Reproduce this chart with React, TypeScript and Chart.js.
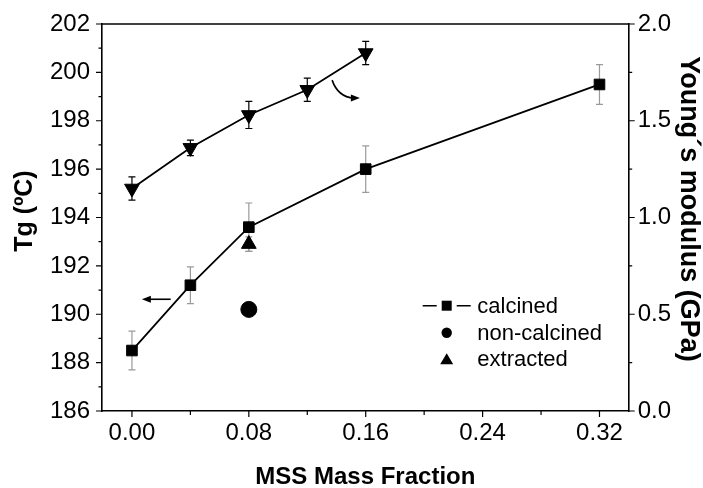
import React, { useEffect, useRef } from "react";
import { Chart, registerables } from "chart.js";

Chart.register(...registerables);

// ---- data ----
const xCalcined = [0, 0.04, 0.08, 0.16, 0.32];
const tgCalcined = [188.5, 191.2, 193.6, 196.0, 199.5];
const tgCalcinedErr = [0.8, 0.76, 1.0, 0.96, 0.82];

const xModulus = [0, 0.04, 0.08, 0.12, 0.16];
const modulusGPa = [1.15, 1.36, 1.53, 1.66, 1.85];
const modulusErr = [0.06, 0.04, 0.07, 0.06, 0.06];

const xNonCalcined = [0.08];
const tgNonCalcined = [190.2];

const xExtracted = [0.08];
const tgExtracted = [192.9];
const tgExtractedErr = [0.3];

const xTickValues = [0, 0.04, 0.08, 0.12, 0.16, 0.2, 0.24, 0.28, 0.32];
const legendLabels = ["calcined", "non-calcined", "extracted"];

const xTitle = "MSS Mass Fraction";
const yTitle = "Tg (ºC)";
const y2Title = "Young´s modulus (GPa)";

// arrow annotations in data units
const leftArrow = { x1: 0.0265, x2: 0.0068, y: 190.62 };
const curvedArrow = { x0: 0.137, y0: 199.68, cx: 0.141, cy: 198.98, x1: 0.156, y1: 198.94 };

const FONT = '"Liberation Sans", Arial, Helvetica, sans-serif';

function arrowHead(ctx: CanvasRenderingContext2D, x: number, y: number, ang: number, len = 9, half = 3.5) {
  ctx.save();
  ctx.translate(x, y);
  ctx.rotate(ang);
  ctx.beginPath();
  ctx.moveTo(0, 0);
  ctx.lineTo(-len, -half);
  ctx.lineTo(-len, half);
  ctx.closePath();
  ctx.fill();
  ctx.restore();
}

const customPlugin = {
  id: "customDecor",
  beforeDatasetsDraw(chart: any) {
    const { ctx, scales } = chart;
    const xs = scales.x;
    const drawErr = (xsArr: number[], vals: number[], errs: number[], ys: any, color: string) => {
      ctx.save();
      ctx.strokeStyle = color;
      ctx.lineWidth = 1.2;
      xsArr.forEach((xv, i) => {
        const px = xs.getPixelForValue(xv);
        const top = ys.getPixelForValue(vals[i] + errs[i]);
        const bot = ys.getPixelForValue(vals[i] - errs[i]);
        ctx.beginPath();
        ctx.moveTo(px, top);
        ctx.lineTo(px, bot);
        ctx.moveTo(px - 3.5, top);
        ctx.lineTo(px + 3.5, top);
        ctx.moveTo(px - 3.5, bot);
        ctx.lineTo(px + 3.5, bot);
        ctx.stroke();
      });
      ctx.restore();
    };
    drawErr(xCalcined, tgCalcined, tgCalcinedErr, scales.y, "#9a9a9a");
    drawErr(xModulus, modulusGPa, modulusErr, scales.y2, "#000");
    drawErr(xExtracted, tgExtracted, tgExtractedErr, scales.y, "#9a9a9a");
  },
  afterDraw(chart: any) {
    const { ctx, scales, chartArea: ca } = chart;
    const xs = scales.x, ys = scales.y, y2 = scales.y2;
    ctx.save();
    ctx.strokeStyle = "#000";
    ctx.fillStyle = "#000";
    ctx.lineWidth = 1.5;
    // top frame line
    ctx.beginPath();
    ctx.moveTo(ca.left, ca.top);
    ctx.lineTo(ca.right, ca.top);
    ctx.stroke();
    // tick marks
    ctx.lineWidth = 1.2;
    ctx.beginPath();
    xTickValues.forEach((v, i) => {
      const px = xs.getPixelForValue(v);
      const len = i % 2 === 0 ? 6 : 4;
      ctx.moveTo(px, ca.bottom);
      ctx.lineTo(px, ca.bottom + len);
    });
    ys.ticks.forEach((t: any) => {
      const py = ys.getPixelForValue(t.value);
      const len = Math.round(t.value) % 2 === 0 ? 6 : 3.5;
      ctx.moveTo(ca.left, py);
      ctx.lineTo(ca.left - len, py);
    });
    y2.ticks.forEach((t: any) => {
      const py = y2.getPixelForValue(t.value);
      const major = Math.abs(t.value * 2 - Math.round(t.value * 2)) < 1e-6;
      const len = major ? 6 : 3.5;
      ctx.moveTo(ca.right, py);
      ctx.lineTo(ca.right + len, py);
    });
    ctx.stroke();

    // arrows
    ctx.lineWidth = 1.6;
    const ax1 = xs.getPixelForValue(leftArrow.x1);
    const ax2 = xs.getPixelForValue(leftArrow.x2);
    const ay = ys.getPixelForValue(leftArrow.y);
    ctx.beginPath();
    ctx.moveTo(ax1, ay);
    ctx.lineTo(ax2 + 6, ay);
    ctx.stroke();
    arrowHead(ctx, ax2, ay, Math.PI);

    const c0x = xs.getPixelForValue(curvedArrow.x0), c0y = ys.getPixelForValue(curvedArrow.y0);
    const ccx = xs.getPixelForValue(curvedArrow.cx), ccy = ys.getPixelForValue(curvedArrow.cy);
    const c1x = xs.getPixelForValue(curvedArrow.x1), c1y = ys.getPixelForValue(curvedArrow.y1);
    ctx.beginPath();
    ctx.moveTo(c0x, c0y);
    ctx.quadraticCurveTo(ccx, ccy, c1x - 6, c1y);
    ctx.stroke();
    arrowHead(ctx, c1x, c1y, 0);

    // legend
    const lx = ca.left + 344.7; // symbol center
    const rows = [ca.top + 281.7, ca.top + 308.7, ca.top + 335.3];
    ctx.font = `22px ${FONT}`;
    ctx.textBaseline = "middle";
    ctx.textAlign = "left";
    ctx.lineWidth = 1.6;
    ctx.beginPath();
    ctx.moveTo(lx - 24, rows[0]);
    ctx.lineTo(lx - 10, rows[0]);
    ctx.moveTo(lx + 10, rows[0]);
    ctx.lineTo(lx + 24, rows[0]);
    ctx.stroke();
    ctx.fillRect(lx - 5, rows[0] - 5, 10, 10);
    ctx.beginPath();
    ctx.arc(lx, rows[1], 5.2, 0, Math.PI * 2);
    ctx.fill();
    ctx.beginPath();
    ctx.moveTo(lx, rows[2] - 6);
    ctx.lineTo(lx + 6.5, rows[2] + 5);
    ctx.lineTo(lx - 6.5, rows[2] + 5);
    ctx.closePath();
    ctx.fill();
    legendLabels.forEach((l, i) => ctx.fillText(l, lx + 30.6, rows[i] + 1));

    // axis titles
    ctx.textBaseline = "alphabetic";
    ctx.textAlign = "center";
    ctx.font = `bold 24px ${FONT}`;
    ctx.fillText(xTitle, (ca.left + ca.right) / 2, 483.5);
    ctx.font = `bold 25px ${FONT}`;
    ctx.save();
    ctx.translate(31.7, 211);
    ctx.rotate(-Math.PI / 2);
    ctx.fillText(yTitle, 0, 0);
    ctx.restore();
    ctx.font = `bold 27px ${FONT}`;
    ctx.save();
    ctx.translate(681, 209);
    ctx.rotate(Math.PI / 2);
    ctx.fillText(y2Title, 0, 0);
    ctx.restore();
    ctx.restore();
  },
};

export default function App() {
  const ref = useRef<HTMLCanvasElement | null>(null);
  useEffect(() => {
    if (!ref.current) return;
    const tickFont = { family: FONT, size: 24 };
    const chart = new Chart(ref.current, {
      type: "scatter",
      data: {
        datasets: [
          {
            label: legendLabels[0],
            data: xCalcined.map((x, i) => ({ x, y: tgCalcined[i] })),
            showLine: true,
            borderColor: "#000",
            backgroundColor: "#000",
            borderWidth: 1.8,
            pointStyle: "rect",
            pointRadius: 7.5,
            pointBorderWidth: 1,
            yAxisID: "y",
          },
          {
            label: "modulus",
            data: xModulus.map((x, i) => ({ x, y: modulusGPa[i] })),
            showLine: true,
            borderColor: "#000",
            backgroundColor: "#000",
            borderWidth: 1.8,
            pointStyle: "triangle",
            rotation: 180,
            pointRadius: 8.5,
            pointBorderWidth: 1,
            yAxisID: "y2",
          },
          {
            label: legendLabels[1],
            data: xNonCalcined.map((x, i) => ({ x, y: tgNonCalcined[i] })),
            borderColor: "#000",
            backgroundColor: "#000",
            pointStyle: "circle",
            pointRadius: 8,
            pointBorderWidth: 1,
            yAxisID: "y",
          },
          {
            label: legendLabels[2],
            data: xExtracted.map((x, i) => ({ x, y: tgExtracted[i] })),
            borderColor: "#000",
            backgroundColor: "#000",
            pointStyle: "triangle",
            pointRadius: 8.5,
            pointBorderWidth: 1,
            yAxisID: "y",
          },
        ] as any,
      },
      options: {
        animation: false,
        responsive: true,
        maintainAspectRatio: false,
        events: [],
        layout: { padding: { top: 24, left: 0, right: 0, bottom: 0 } },
        plugins: { legend: { display: false }, tooltip: { enabled: false } },
        scales: {
          x: {
            type: "linear",
            min: -0.0205,
            max: 0.34,
            afterBuildTicks: (s: any) => {
              s.ticks = xTickValues.map((v) => ({ value: v }));
            },
            afterFit: (s: any) => {
              s.height = 77;
            },
            ticks: {
              font: tickFont,
              color: "#000",
              padding: 2,
              maxRotation: 0,
              autoSkip: false,
              callback: (v: any, i: number) => (i % 2 === 0 ? Number(v).toFixed(2) : ""),
            },
            grid: { display: true, drawOnChartArea: false, drawTicks: true, tickLength: 6, tickColor: "rgba(0,0,0,0)" },
            border: { display: true, color: "#000", width: 1.6 },
          },
          y: {
            type: "linear",
            position: "left",
            min: 186,
            max: 202,
            afterFit: (s: any) => {
              s.width = 102;
            },
            ticks: {
              stepSize: 1,
              font: tickFont,
              color: "#000",
              padding: 6,
              autoSkip: false,
              callback: (v: any) => (Math.round(Number(v)) % 2 === 0 ? String(Math.round(Number(v))) : ""),
            },
            grid: { display: true, drawOnChartArea: false, drawTicks: true, tickLength: 6, tickColor: "rgba(0,0,0,0)" },
            border: { display: true, color: "#000", width: 1.6 },
          },
          y2: {
            type: "linear",
            position: "right",
            min: 0,
            max: 2,
            afterFit: (s: any) => {
              s.width = 74.3;
            },
            ticks: {
              stepSize: 0.25,
              font: tickFont,
              color: "#000",
              padding: 3,
              autoSkip: false,
              callback: (v: any) => {
                const n = Number(v);
                return Math.abs(n * 2 - Math.round(n * 2)) < 1e-6 ? n.toFixed(1) : "";
              },
            },
            grid: { display: true, drawOnChartArea: false, drawTicks: true, tickLength: 6, tickColor: "rgba(0,0,0,0)" },
            border: { display: true, color: "#000", width: 1.6 },
          },
        },
      } as any,
      plugins: [customPlugin],
    });
    return () => chart.destroy();
  }, []);
  return (
    <div style={{ position: "absolute", left: 0, top: 0, width: 703, height: 488, background: "#fff" }}>
      <canvas ref={ref} />
    </div>
  );
}
